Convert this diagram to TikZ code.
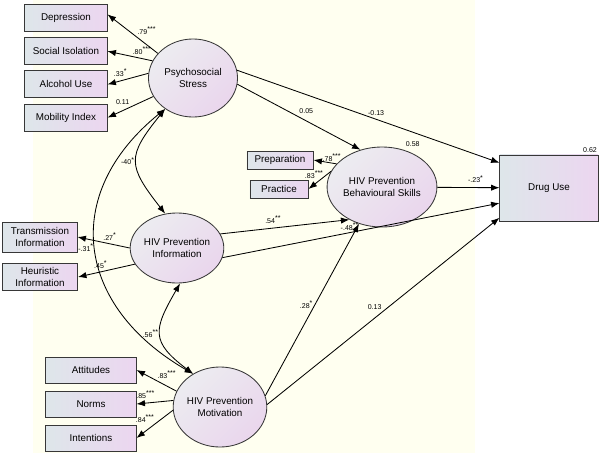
\documentclass[tikz,border=0pt]{standalone}
\usepackage{fontspec}
\setmainfont{Liberation Sans}
\usetikzlibrary{shapes,arrows.meta,positioning}

\definecolor{bgivory}{RGB}{255,255,240}
\definecolor{boxleft}{RGB}{222,230,234}
\definecolor{boxright}{RGB}{236,214,240}
\definecolor{elllight}{RGB}{236,236,240}
\definecolor{ellpink}{RGB}{234,214,237}
\definecolor{edgegray}{RGB}{55,55,55}

\begin{document}
\begin{tikzpicture}[x=0.025cm, y=-0.025cm, node distance=0.83cm]
  \tikzstyle{observed} = [rectangle, draw=edgegray, line width=0.7pt,
    left color=boxleft, right color=boxright, align=center,
    font=\fontsize{7}{8}\selectfont, inner sep=1pt,
    minimum width=2.05cm, minimum height=0.675cm]
  \tikzstyle{latent} = [ellipse, draw=edgegray, line width=0.6pt,
    top color=elllight, bottom color=ellpink, shading angle=45,
    align=center, font=\fontsize{7}{8}\selectfont, inner sep=0pt]
  \tikzstyle{coef} = [font=\fontsize{5}{6}\selectfont, inner sep=1pt]
  \tikzstyle{line} = [draw, line width=0.6pt, -{Latex[length=6pt, width=4.5pt]}]
  \tikzstyle{cov} = [draw, line width=0.6pt,
    {Latex[length=6pt, width=4.5pt]}-{Latex[length=6pt, width=4.5pt]}]

  \useasboundingbox (0,0) rectangle (600,455);
  \fill [bgivory] (33,0) rectangle (475,453);

  % Place nodes
  \node [observed] (dep) at (66,18) {Depression};
  \node [observed, below of=dep] (soc) {Social Isolation};
  \node [observed, below of=soc] (alc) {Alcohol Use};
  \node [observed, below of=alc] (mob) {Mobility Index};
  \node [latent, minimum width=2.225cm, minimum height=1.95cm] (stress) at (193,78) {Psychosocial\\Stress};

  \node [observed, minimum width=1.65cm, minimum height=0.45cm] (prep) at (280,160) {Preparation};
  \node [observed, minimum width=1.45cm, minimum height=0.45cm] (prac) at (279,189) {Practice};
  \node [latent, minimum width=2.1cm, minimum height=2cm,
    label={[coef, label distance=1pt]60:0.58}] (skills) at (382,187) {HIV Prevention\\Behavioural Skills};
  \node [observed, minimum width=2.45cm, minimum height=1.65cm,
    label={[coef, anchor=south east]34:0.62}] (drug) at (549,188) {Drug Use};

  \node [observed, minimum width=1.85cm, minimum height=0.75cm] (trans) at (40,237) {Transmission\\Information};
  \node [observed, minimum width=1.875cm, minimum height=0.675cm, node distance=1cm, below of=trans] (heur) {Heuristic\\Information};
  \node [latent, minimum width=2.075cm, minimum height=1.75cm] (info) at (177,248) {HIV Prevention\\Information};

  \node [observed, minimum width=2.25cm, minimum height=0.65cm] (att) at (91,370) {Attitudes};
  \node [observed, minimum width=2.25cm, minimum height=0.65cm, node distance=0.85cm, below of=att] (norms) {Norms};
  \node [observed, minimum width=2.25cm, minimum height=0.65cm, node distance=0.85cm, below of=norms] (intent) {Intentions};
  \node [latent, minimum width=2.075cm, minimum height=2cm] (motiv) at (220,407) {HIV Prevention\\Motivation};

  % Draw edges
  \path [line] (stress.145) -- node [coef, pos=.44, anchor=south west] {.79\textsuperscript{***}} (dep.5);
  \path [line] (stress.157) -- node [coef, pos=.48, anchor=south west] {.80\textsuperscript{***}} (soc.east);
  \path [line] (stress.174) -- node [coef, pos=.68, above=2pt] {.33\textsuperscript{*}} (alc.east);
  \path [line] (stress.205) -- node [coef, pos=.67, above=3pt] {0.11} (mob.east);
  \path [line] (stress.352) -- node [coef, pos=.56, above=4pt] {0.05} (skills.120);
  \path [line] (stress.10) -- node [coef, pos=.53, above=1pt] {-0.13} (drug.153);

  \path [line] (skills.153) -- node [coef, pos=.2, above] {.78\textsuperscript{***}} (prep.east);
  \path [line] (skills.163) -- node [coef, pos=.74, above=3pt] {.83\textsuperscript{***}} (prac.east);
  \path [line] (skills) -- node [coef, pos=.62, above=2pt] {-.23\textsuperscript{*}} (drug);

  \path [line] (info.18) -- node [coef, pos=.41, above=2pt] {.54\textsuperscript{**}} (skills.225);
  \path [line] (info.348) -- node [coef, pos=.46, above] {-.48\textsuperscript{**}} (drug.197);
  \path [line] (info.180) -- node [coef, pos=.38, above=1pt] {.27\textsuperscript{*}} (trans.east);
  \path [line] (info.201) -- node [coef, pos=.6, above=1pt] {.45\textsuperscript{*}} (heur.east);

  \path [line] (motiv.14) -- node [coef, pos=.53, left] {.28\textsuperscript{*}} (skills.238);
  \path [line] (motiv.3) -- node [coef, pos=.5, anchor=south east] {0.13} (drug.211);
  \path [line] (motiv.160) -- node [coef, pos=.24, above=4pt] {.83\textsuperscript{***}} (att.east);
  \path [line] (motiv.172) -- node [coef, pos=.75, above=2pt] {.85\textsuperscript{***}} (norms.east);
  \path [line] (motiv.184) -- node [coef, pos=.76, above=5pt] {.84\textsuperscript{***}} (intent.east);

  % Covariances
  \path [cov] (stress.228) to [out=231, in=128, looseness=1.5] node [coef, left] {-40\textsuperscript{*}} (info.109);
  \path [cov] (stress.228) to [out=219, in=150, looseness=1.3] node [coef, left] {-.31\textsuperscript{*}} (motiv.129);
  \path [cov] (info.275) to [out=240, in=143, looseness=1.5] node [coef, left] {.56\textsuperscript{**}} (motiv.129);
\end{tikzpicture}
\end{document}
